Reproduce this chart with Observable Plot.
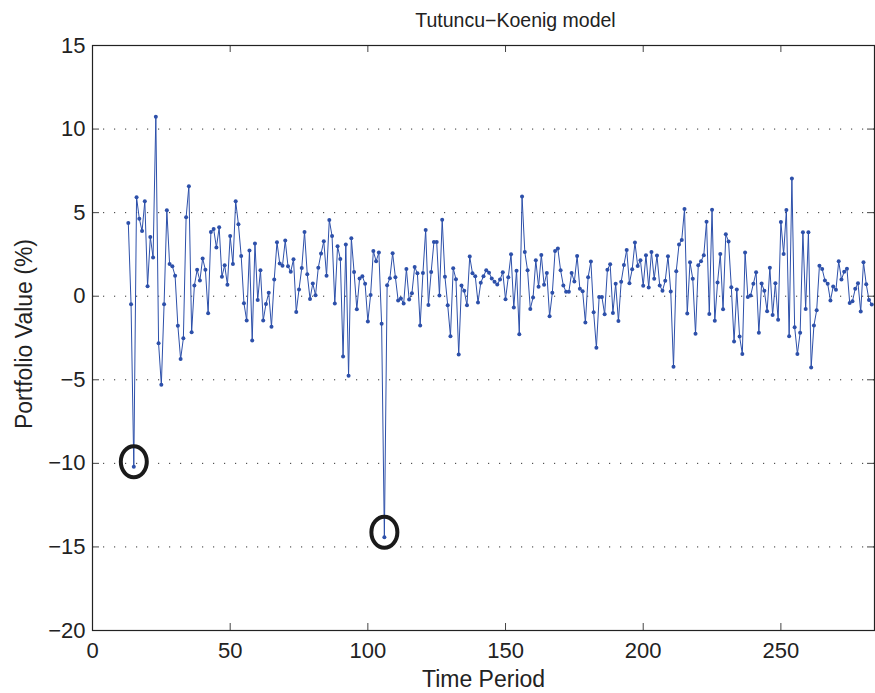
<!DOCTYPE html>
<html>
<head>
<meta charset="utf-8">
<script src="https://cdn.jsdelivr.net/npm/d3@7"></script>
<script src="https://cdn.jsdelivr.net/npm/@observablehq/plot@0.6"></script>
<style>
  body { margin: 0; background: #fff; }
  #chart svg { display: block; }
</style>
</head>
<body>
<div id="chart"></div>
<script>
const chartTitle = "Tutuncu−Koenig model";
const xLabel = "Time Period";
const yLabel = "Portfolio Value (%)";

const firstPeriod = 13;
const portfolioValue = [
  4.38, -0.48, -10.2, 5.92, 4.64, 3.9, 5.68, 0.6, 3.54, 2.32,
  10.74, -2.82, -5.3, -0.48, 5.14, 1.92, 1.8, 1.22, -1.76, -3.76,
  -2.52, 4.72, 6.58, -2.16, 0.64, 1.58, 0.94, 2.26, 1.58, -1.02,
  3.84, 4.02, 2.92, 4.12, 1.16, 1.86, 0.68, 3.6, 1.92, 5.68,
  4.3, 2.4, -0.42, -1.46, 2.74, -2.65, 3.15, -0.22, 1.55, -1.45,
  -0.46, 0.2, -1.83, 1.0, 3.23, 1.95, 1.83, 3.33, 1.79, 1.47,
  2.21, -0.94, 0.4, 1.69, 3.84, 1.31, -0.16, 0.76, 0.06, 1.71,
  2.55, 3.29, 1.22, 4.56, 3.6, -0.44, 2.99, 2.23, -3.61, 3.09,
  -4.76, 3.47, 1.45, -0.78, 1.06, 1.2, 0.74, -1.51, 0.08, 2.71,
  2.09, 2.61, -1.65, -14.42, 0.66, 1.08, 2.57, 1.14, -0.26, -0.14,
  -0.44, 1.63, -0.2, 0.18, 1.75, 1.37, -1.75, 1.39, 3.96, -0.52,
  1.45, 3.25, 3.25, 0.04, 4.58, 1.16, -0.54, -2.39, 1.67, 1.02,
  -3.49, 0.64, 0.32, -0.54, 2.37, 1.37, 1.2, -0.38, 0.8, 1.2,
  1.55, 1.41, 1.06, 0.86, 0.7, 1.0, 1.43, -0.18, 1.14, 2.51,
  -0.68, 1.53, -2.27, 5.96, 2.65, 1.55, -0.76, -0.08, 2.15, 0.56,
  2.47, 0.68, 1.39, -1.2, 0.2, 2.71, 2.85, 1.55, 0.64, 0.26,
  0.26, 1.39, 0.88, 2.41, 0.44, 0.3, -1.57, 1.14, 2.07, -0.96,
  -3.09, -0.04, -0.04, -1.08, 1.59, 1.91, -1.0, 0.74, -1.49, 0.86,
  1.87, 2.77, 0.78, 1.61, 3.21, 1.81, 2.15, 0.62, 2.45, 0.52,
  2.65, 1.04, 2.43, 0.64, 0.32, 0.92, 2.39, 0.28, -4.22, 1.49,
  3.09, 3.37, 5.22, -1.04, 2.03, 1.04, -2.25, 1.85, 2.09, 2.45,
  4.46, -1.06, 5.18, -1.47, 0.82, 2.53, -0.78, 3.71, 3.27, 0.54,
  -2.71, 0.4, -2.41, -3.45, 2.61, -0.04, 0.04, 0.74, 1.43, -2.19,
  0.76, 0.32, -0.9, 1.71, -1.12, 0.78, -1.41, 4.44, 2.53, 5.16,
  -2.39, 7.05, -1.85, -3.45, -2.19, 3.82, -0.76, 3.82, -4.26, -1.75,
  -0.84, 1.83, 1.63, 0.94, 0.74, -0.26, 0.58, 0.38, 2.09, 1.0,
  1.47, 1.65, -0.4, -0.3, 0.44, 0.78, -0.92, 2.03, 0.72, -0.22, -0.5
];
const circledPeriods = [15, 106];

const xTicks = [0, 50, 100, 150, 200, 250];
const yTicks = [-20, -15, -10, -5, 0, 5, 10, 15];
const yGrid = [-15, -10, -5, 0, 5, 10];
const xDomain = [0, 284];
const yDomain = [-20, 15];

const data = portfolioValue.map((v, i) => ({ period: firstPeriod + i, value: v }));
const circled = data.filter(d => circledPeriods.includes(d.period));

const W = 875, H = 693;
const mL = 92, mR = 1, mT = 45, mB = 63;
const plotW = W - mL - mR, plotH = H - mT - mB;
const TICK = 7;
const blue = "#2d50aa";
const ink = "#222";
const font = "'Liberation Sans', Arial, Helvetica, sans-serif";

const ellipse = {
  draw(ctx) {
    const a = 13, b = 15.5, k = 0.5523;
    ctx.moveTo(a, 0);
    ctx.bezierCurveTo(a, k * b, k * a, b, 0, b);
    ctx.bezierCurveTo(-k * a, b, -a, k * b, -a, 0);
    ctx.bezierCurveTo(-a, -k * b, -k * a, -b, 0, -b);
    ctx.bezierCurveTo(k * a, -b, a, -k * b, a, 0);
    ctx.closePath();
  }
};

const chart = Plot.plot({
  width: W,
  height: H,
  marginLeft: mL,
  marginRight: mR,
  marginTop: mT,
  marginBottom: mB,
  x: { domain: xDomain },
  y: { domain: yDomain },
  style: { fontFamily: font, fontSize: "22px", color: ink, background: "#fff", overflow: "visible" },
  marks: [
    Plot.ruleY(yGrid, { y: d => d, stroke: "#333", strokeWidth: 1, strokeDasharray: "1.2,9.8" }),
    Plot.line(data, { x: "period", y: "value", stroke: blue, strokeWidth: 1 }),
    Plot.dot(data, { x: "period", y: "value", r: 2, fill: blue, stroke: "none" }),
    Plot.dot(circled, { x: "period", y: "value", symbol: ellipse, fill: "none", stroke: "#1a1a1a", strokeWidth: 4, dy: -5 }),
    Plot.tickX(xTicks, { x: d => d, insetTop: plotH - TICK, stroke: "#444" }),
    Plot.tickX(xTicks, { x: d => d, insetBottom: plotH - TICK, stroke: "#444" }),
    Plot.tickY(yTicks, { y: d => d, insetRight: plotW - TICK, stroke: "#444" }),
    Plot.tickY(yTicks, { y: d => d, insetLeft: plotW - TICK, stroke: "#444" }),
    Plot.frame({ stroke: ink, strokeWidth: 1.2 }),
    Plot.axisX(xTicks, { tickSize: 0, tickPadding: 12, label: null, fontSize: 22, fill: ink }),
    Plot.axisY(yTicks, { tickSize: 0, tickPadding: 7, label: null, fontSize: 22, fill: ink }),
    Plot.text([xLabel], { text: d => d, frameAnchor: "bottom", lineAnchor: "top", dy: 40, fontSize: 23, fill: ink }),
    Plot.text([yLabel], { text: d => d, frameAnchor: "left", textAnchor: "middle", rotate: -90, lineAnchor: "bottom", dx: -61, dy: -4, fontSize: 23, fill: ink }),
    Plot.text([chartTitle], { text: d => d, frameAnchor: "top", textAnchor: "middle", lineAnchor: "bottom", dy: -19, dx: 32, fontSize: 19.5, fill: ink })
  ]
});

document.getElementById("chart").appendChild(chart);
</script>
</body>
</html>
